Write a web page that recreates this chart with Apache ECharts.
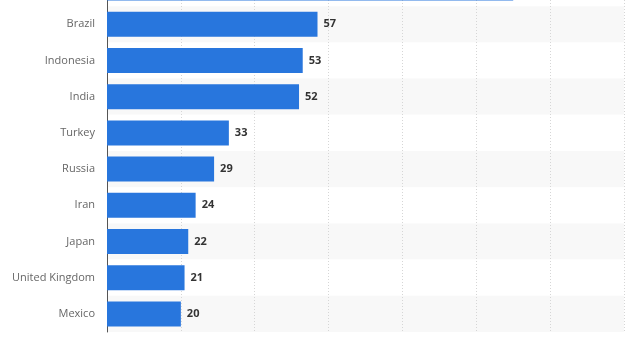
<!DOCTYPE html>
<html>
<head>
<meta charset="utf-8">
<style>
  html, body { margin: 0; padding: 0; background: #fff; overflow: hidden; width: 640px; height: 340px; }
  /* the chart is taller than the view and shifted up, so the first row sits above the top edge */
  #chart { position: absolute; left: 0; top: -30px; width: 640px; height: 370px; }
</style>
<script src="https://cdn.jsdelivr.net/npm/echarts@6/dist/echarts.min.js"></script>
</head>
<body>
<div id="chart"></div>
<script>
// Users by country, in millions
const countries = ['United States', 'Brazil', 'Indonesia', 'India', 'Turkey', 'Russia', 'Iran', 'Japan', 'United Kingdom', 'Mexico'];
const users = [110, 57, 53, 52, 33, 29, 24, 22, 21, 20];
const xTicks = [0, 20, 40, 60, 80, 100, 120, 140];

const chart = echarts.init(document.getElementById('chart'), null, { renderer: 'canvas' });

chart.setOption({
  animation: false,
  grid: { left: 107, right: 16, top: 0, bottom: 8 },
  xAxis: {
    type: 'value',
    min: xTicks[0],
    max: xTicks[xTicks.length - 1],
    interval: xTicks[1] - xTicks[0],
    axisLabel: { show: false },
    axisLine: { show: false },
    axisTick: { show: false },
    splitLine: { show: true, lineStyle: { color: '#d6d6d6', type: [1, 2], width: 1 } }
  },
  yAxis: {
    type: 'category',
    data: countries,
    inverse: true,
    axisLine: { show: true, lineStyle: { color: '#555', width: 1 } },
    axisTick: { show: false },
    axisLabel: { color: '#666', fontSize: 11, fontFamily: 'Open Sans', margin: 12 },
    splitArea: { show: true, areaStyle: { color: ['#ffffff', '#f8f8f8'] } }
  },
  series: [{
    type: 'bar',
    data: users,
    barWidth: 25,
    itemStyle: { color: '#2876dd' },
    label: {
      show: true,
      position: 'right',
      distance: 6,
      color: '#333',
      fontSize: 11,
      fontWeight: 'bold',
      fontFamily: 'Open Sans'
    }
  }]
});
</script>
</body>
</html>
